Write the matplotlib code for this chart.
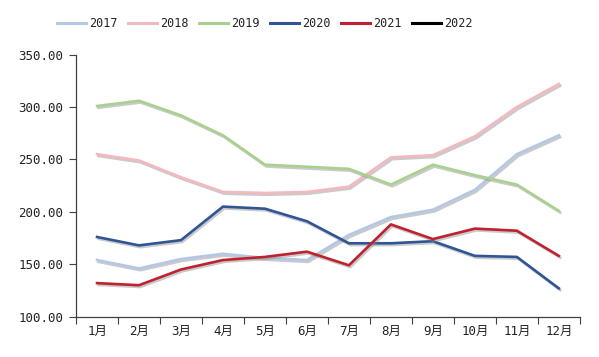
import numpy as np
import matplotlib
matplotlib.use("Agg")
import matplotlib.pyplot as plt
import matplotlib.patheffects as pe
from matplotlib.lines import Line2D

plt.rcParams['font.family'] = ['DejaVu Sans Mono', 'Noto Sans CJK SC']

# data
months = ['1月', '2月', '3月', '4月', '5月', '6月', '7月', '8月', '9月', '10月', '11月', '12月']
s2017 = [154, 146, 155, 160, 156, 154, 178, 195, 202, 221, 255, 273]
s2018 = [255, 249, 233, 219, 218, 219, 224, 252, 254, 272, 300, 322]
s2019 = [301, 306, 292, 273, 245, 243, 241, 226, 245, 235, 226, 201]
s2020 = [176, 168, 173, 205, 203, 191, 170, 170, 172, 158, 157, 127]
s2021 = [132, 130, 145, 154, 157, 162, 149, 188, 174, 184, 182, 158]
s2022 = []

series = [('2017', s2017, '#b4c7e7'),
          ('2018', s2018, '#f4b8bf'),
          ('2019', s2019, '#a9d18e'),
          ('2020', s2020, '#2f5597'),
          ('2021', s2021, '#c0212f'),
          ('2022', s2022, '#000000')]

fig = plt.figure(figsize=(5.99, 3.57), dpi=100)
ax = fig.add_axes([0.127, 0.113, 0.841, 0.734])

x = np.arange(len(months))
handles = []
for name, vals, col in series:
    if vals:
        ax.plot(x[:len(vals)], vals, color=col, lw=1.9,
                path_effects=[pe.SimpleLineShadow(offset=(1.0, -1.3), shadow_color='#8a8a8a', alpha=0.45),
                              pe.Normal()])
    handles.append(Line2D([], [], color=col, lw=2.2, label=name))

ax.set_xlim(-0.5, 11.5)
ax.set_ylim(100, 350)
ax.set_yticks(np.arange(100, 351, 50))
ax.set_yticklabels([f'{v:.2f}' for v in np.arange(100, 351, 50)], fontsize=9, color='#222222')
ax.set_xticks(np.arange(-0.5, 12, 1))
ax.set_xticklabels([])
ax.set_xticks(x, minor=True)
ax.set_xticklabels(months, minor=True, fontsize=9, color='#222222')
ax.tick_params(axis='x', which='minor', length=0, pad=6)
ax.tick_params(axis='x', which='major', length=5, color='#404040')
ax.tick_params(axis='y', length=5, color='#404040', pad=4)

for s in ['top', 'right']:
    ax.spines[s].set_visible(False)
for s in ['left', 'bottom']:
    ax.spines[s].set_color('#404040')
    ax.spines[s].set_linewidth(0.9)

fig.legend(handles=handles, loc='center', bbox_to_anchor=(0.442, 0.933), ncol=6,
           frameon=False, fontsize=8.5, handlelength=2.4, handletextpad=0.25,
           columnspacing=0.95, labelcolor='#222222')

fig.savefig('out.png', dpi=100)
